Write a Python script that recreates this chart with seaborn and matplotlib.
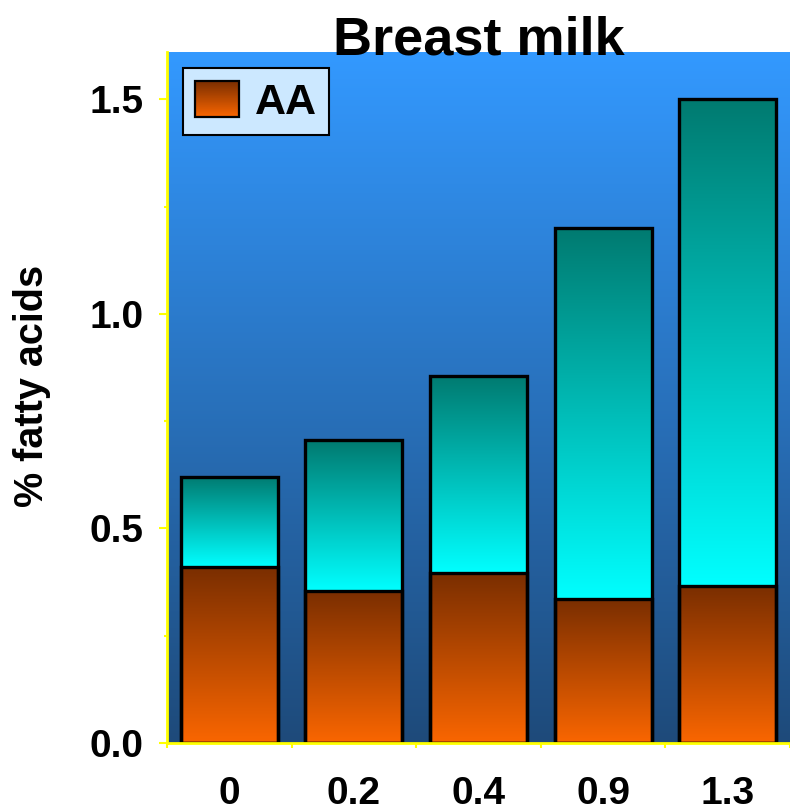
import numpy as np
import pandas as pd
import seaborn as sns
import matplotlib
matplotlib.use("Agg")
import matplotlib.pyplot as plt
from matplotlib.colors import LinearSegmentedColormap
from matplotlib.patches import Rectangle
from matplotlib.legend_handler import HandlerBase
from matplotlib.image import BboxImage
from matplotlib.transforms import Bbox, TransformedBbox
from matplotlib.ticker import FixedLocator, MultipleLocator, FormatStrFormatter

# Dose groups and fatty acid content (% of total fatty acids)
doses = ["0", "0.2", "0.4", "0.9", "1.3"]
aa = [0.41, 0.355, 0.395, 0.335, 0.365]
upper = [0.21, 0.35, 0.46, 0.865, 1.135]
total = [a + u for a, u in zip(aa, upper)]

sns.set_style("white")
plt.rcParams["font.family"] = ["Liberation Sans", "DejaVu Sans"]
plt.rcParams["font.weight"] = "bold"
plt.rcParams["text.color"] = "black"
plt.rcParams["axes.labelcolor"] = "black"
plt.rcParams["xtick.labelcolor"] = "black"
plt.rcParams["ytick.labelcolor"] = "black"

# Vertical colour ramps (first colour at the top, second at the bottom)
bg_cmap = LinearSegmentedColormap.from_list("bg", ["#3399FF", "#1E4A7A"])
aa_cmap = LinearSegmentedColormap.from_list("aa", ["#7A2E00", "#FA6600"])
up_cmap = LinearSegmentedColormap.from_list("up", ["#007A70", "#00FFFF"])
ramp = np.linspace(0, 1, 256).reshape(-1, 1)

df = pd.DataFrame({"dose": doses, "AA": aa, "total": total})

fig = plt.figure(figsize=(7.9, 8.11), dpi=100)
ax = fig.add_axes([167 / 790, 68 / 811, 623 / 790, 691 / 811])

# Stacked bars: full height first, AA segment drawn on top
sns.barplot(data=df, x="dose", y="total", ax=ax, width=0.78, color="#00C0C0",
            errorbar=None)
n = len(ax.patches)
sns.barplot(data=df, x="dose", y="AA", ax=ax, width=0.78, color="#C05000",
            errorbar=None)
tot_bars = ax.patches[:n]
aa_bars = ax.patches[n:]

for i, p in enumerate(tot_bars):
    p.set_facecolor("none")
    p.set_edgecolor("black")
    p.set_linewidth(2.4)
    p.set_zorder(3)
    x0, w = p.get_x(), p.get_width()
    ax.imshow(ramp, cmap=up_cmap, extent=[x0, x0 + w, aa[i], total[i]],
              aspect="auto", clip_path=p, zorder=2, interpolation="bilinear")

for i, p in enumerate(aa_bars):
    p.set_facecolor("none")
    p.set_edgecolor("black")
    p.set_linewidth(2.4)
    p.set_zorder(3.1)
    x0, w = p.get_x(), p.get_width()
    ax.imshow(ramp, cmap=aa_cmap, extent=[x0, x0 + w, 0, aa[i]],
              aspect="auto", clip_path=p, zorder=2.1, interpolation="bilinear")

# Plot-area background ramp
ax.imshow(ramp, cmap=bg_cmap, extent=[0, 1, 0, 1], transform=ax.transAxes,
          aspect="auto", zorder=0, interpolation="bilinear")

ax.set_xlim(-0.5, 4.5)
ax.set_ylim(0, 1.61)

# Axes lines and ticks
for side in ["top", "right"]:
    ax.spines[side].set_visible(False)
for side in ["left", "bottom"]:
    ax.spines[side].set_color("yellow")
    ax.spines[side].set_linewidth(2)
    ax.spines[side].set_zorder(5)

ax.set_yticks([0, 0.5, 1.0, 1.5])
ax.yaxis.set_major_formatter(FormatStrFormatter("%.1f"))
ax.yaxis.set_minor_locator(MultipleLocator(0.25))
ax.xaxis.set_minor_locator(FixedLocator(np.arange(-0.5, 5, 1.0)))

ax.tick_params(axis="y", which="major", length=6, width=1.5, color="yellow",
               labelcolor="black", pad=11, labelsize=28, left=True)
ax.tick_params(axis="y", which="minor", length=2.5, width=1.5, color="yellow",
               left=True)
ax.tick_params(axis="x", which="major", length=0, pad=24, labelsize=28,
               labelcolor="black")
ax.tick_params(axis="x", which="minor", length=3.5, width=1.5, color="yellow",
               bottom=True)
for lbl in ax.get_xticklabels() + ax.get_yticklabels():
    lbl.set_fontweight("bold")

ax.set_xlabel("")
ax.set_ylabel("% fatty acids", fontsize=28.5, fontweight="bold", color="black")
ax.yaxis.set_label_coords(-0.186, 0.517)

ax.set_title("Breast milk", fontsize=39, fontweight="bold", pad=-2,
             color="black")


class GradientHandle(HandlerBase):
    """Legend key filled with a vertical colour ramp."""

    def __init__(self, cmap, **kw):
        super().__init__(**kw)
        self.cmap = cmap

    def create_artists(self, legend, orig_handle, xdescent, ydescent,
                       width, height, fontsize, trans):
        box = Bbox.from_bounds(-xdescent, -ydescent, width, height)
        img = BboxImage(TransformedBbox(box, trans), cmap=self.cmap,
                        interpolation="bilinear")
        img.set_data(ramp)
        rect = Rectangle((-xdescent, -ydescent), width, height,
                         facecolor="none", edgecolor="black", linewidth=1.6,
                         transform=trans)
        return [img, rect]


key = Rectangle((0, 0), 1, 1)
leg = ax.legend(handles=[key], labels=["AA"], loc="upper left",
                bbox_to_anchor=(0.025, 0.977), borderaxespad=0,
                handler_map={key: GradientHandle(aa_cmap)},
                prop={"size": 31, "weight": "bold"},
                handlelength=1.02, handleheight=0.9, handletextpad=0.35,
                borderpad=0.3, fancybox=False, framealpha=1)
leg.get_frame().set_facecolor("#CCE8FF")
leg.get_frame().set_edgecolor("black")
leg.get_frame().set_linewidth(1.5)
for t in leg.get_texts():
    t.set_color("black")
leg.set_zorder(6)

fig.savefig("out.png", dpi=100)
